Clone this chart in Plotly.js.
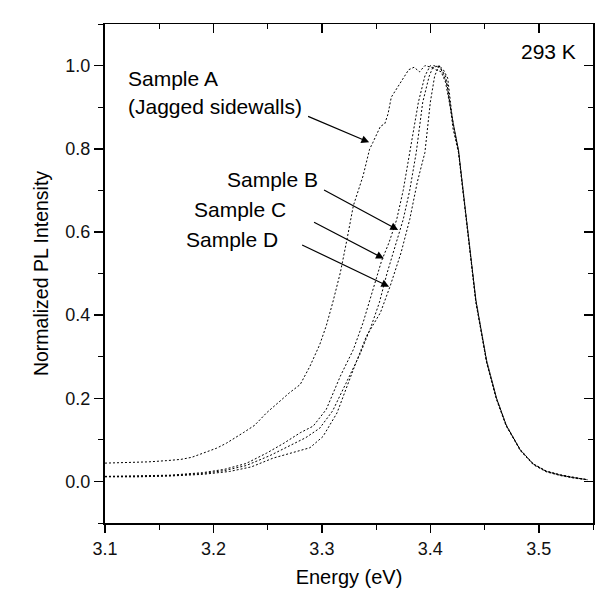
<!DOCTYPE html>
<html>
<head>
<meta charset="utf-8">
<script src="https://cdn.plot.ly/plotly-3.0.1.min.js"></script>
<style>
  html, body { margin: 0; padding: 0; background: #fff; }
  #chart { width: 616px; height: 616px; }
</style>
</head>
<body>
<div id="chart"></div>
<script>
// ---- Data ----
const energyA = [3.100, 3.120, 3.140, 3.157, 3.170, 3.180, 3.188, 3.195, 3.203, 3.212, 3.220, 3.228, 3.238, 3.249, 3.260, 3.270, 3.280, 3.289, 3.298, 3.304, 3.310, 3.317, 3.323, 3.329, 3.338, 3.344, 3.347, 3.354, 3.358, 3.361, 3.364, 3.372, 3.380, 3.385, 3.390, 3.395, 3.402, 3.408, 3.412, 3.416, 3.421, 3.426, 3.430, 3.436, 3.442, 3.448, 3.452, 3.461, 3.470, 3.483, 3.495, 3.507, 3.520, 3.532, 3.545];
const intensityA = [0.044, 0.045, 0.047, 0.050, 0.053, 0.058, 0.066, 0.072, 0.080, 0.092, 0.104, 0.118, 0.135, 0.165, 0.190, 0.213, 0.233, 0.277, 0.329, 0.374, 0.430, 0.502, 0.580, 0.663, 0.735, 0.799, 0.815, 0.854, 0.860, 0.884, 0.924, 0.958, 0.990, 0.996, 0.985, 1.000, 0.995, 1.000, 0.980, 0.950, 0.847, 0.791, 0.695, 0.566, 0.430, 0.340, 0.285, 0.197, 0.133, 0.076, 0.042, 0.025, 0.016, 0.010, 0.004];

const energyB = [3.100, 3.130, 3.160, 3.190, 3.210, 3.230, 3.249, 3.265, 3.280, 3.292, 3.304, 3.317, 3.329, 3.338, 3.347, 3.355, 3.362, 3.369, 3.375, 3.381, 3.389, 3.395, 3.400, 3.405, 3.410, 3.414, 3.421, 3.426, 3.430, 3.436, 3.442, 3.452, 3.461, 3.470, 3.483, 3.495, 3.507, 3.520, 3.532, 3.545];
const intensityB = [0.012, 0.013, 0.015, 0.021, 0.029, 0.043, 0.068, 0.092, 0.117, 0.133, 0.173, 0.253, 0.317, 0.382, 0.462, 0.530, 0.575, 0.630, 0.700, 0.791, 0.912, 0.975, 1.000, 0.990, 0.985, 0.960, 0.860, 0.795, 0.700, 0.570, 0.435, 0.288, 0.200, 0.135, 0.075, 0.041, 0.024, 0.015, 0.009, 0.004];

const energyC = [3.100, 3.130, 3.160, 3.190, 3.210, 3.230, 3.252, 3.270, 3.285, 3.298, 3.310, 3.322, 3.335, 3.345, 3.353, 3.360, 3.366, 3.375, 3.381, 3.387, 3.393, 3.399, 3.403, 3.409, 3.414, 3.421, 3.426, 3.430, 3.436, 3.442, 3.452, 3.461, 3.470, 3.483, 3.495, 3.507, 3.520, 3.532, 3.545];
const intensityC = [0.012, 0.012, 0.014, 0.019, 0.026, 0.038, 0.062, 0.085, 0.105, 0.128, 0.170, 0.235, 0.305, 0.370, 0.430, 0.500, 0.550, 0.630, 0.700, 0.791, 0.912, 0.975, 1.000, 0.995, 0.975, 0.862, 0.797, 0.702, 0.572, 0.437, 0.290, 0.201, 0.136, 0.076, 0.042, 0.024, 0.015, 0.009, 0.004];

const energyD = [3.100, 3.130, 3.160, 3.190, 3.215, 3.235, 3.255, 3.275, 3.289, 3.301, 3.314, 3.329, 3.341, 3.354, 3.363, 3.373, 3.381, 3.388, 3.395, 3.400, 3.404, 3.408, 3.412, 3.416, 3.421, 3.426, 3.430, 3.436, 3.442, 3.452, 3.461, 3.470, 3.483, 3.495, 3.507, 3.520, 3.532, 3.545];
const intensityD = [0.011, 0.011, 0.013, 0.017, 0.024, 0.035, 0.056, 0.070, 0.081, 0.108, 0.165, 0.269, 0.349, 0.406, 0.470, 0.550, 0.630, 0.720, 0.791, 0.912, 0.975, 1.000, 0.990, 0.970, 0.858, 0.793, 0.698, 0.568, 0.433, 0.286, 0.199, 0.134, 0.074, 0.040, 0.023, 0.014, 0.008, 0.004];

const sampleNames = ["Sample A", "Sample B", "Sample C", "Sample D"];
const xTickVals = [3.1, 3.2, 3.3, 3.4, 3.5];
const xTickText = ["3.1", "3.2", "3.3", "3.4", "3.5"];
const yTickVals = [0.0, 0.2, 0.4, 0.6, 0.8, 1.0];
const yTickText = ["0.0", "0.2", "0.4", "0.6", "0.8", "1.0"];

// ---- Traces ----
const lineStyle = { color: "#000", width: 1, dash: "2px,2px" };
const series = [[energyA, intensityA], [energyB, intensityB], [energyC, intensityC], [energyD, intensityD]];
const traces = series.map((s, i) => ({
  x: s[0], y: s[1], name: sampleNames[i], type: "scatter", mode: "lines",
  line: lineStyle, hoverinfo: "skip", showlegend: false
}));
traces.push({ x: [3.1], y: [-1], xaxis: "x2", yaxis: "y2", mode: "markers", marker: { opacity: 0 }, showlegend: false, hoverinfo: "skip" });

const FONT = "Liberation Sans, Arial, sans-serif";
const xr = [3.1, 3.55], yr = [-0.1, 1.1];

const annotations = [
  { text: "Sample A", x: 3.1194, y: 0.968, xanchor: "left" },
  { text: "(Jagged sidewalls)", x: 3.1194, y: 0.9005, xanchor: "left" },
  { text: "Sample B", x: 3.2982, y: 0.727, xanchor: "right" },
  { text: "Sample C", x: 3.2687, y: 0.655, xanchor: "right" },
  { text: "Sample D", x: 3.2613, y: 0.582, xanchor: "right" },
  { text: "293 K", x: 3.536, y: 1.033, xanchor: "right" }
].map(a => Object.assign({ xref: "x", yref: "y", yanchor: "middle", showarrow: false, font: { family: FONT, size: 21, color: "#000" } }, a));

const arrows = [
  [3.2859, 0.8795, 3.3436, 0.8154],
  [3.3006, 0.7029, 3.3703, 0.6048],
  [3.2914, 0.6251, 3.3571, 0.5359],
  [3.2804, 0.5704, 3.3620, 0.4684]
];
arrows.forEach(a => annotations.push({
  xref: "x", yref: "y", axref: "x", ayref: "y",
  ax: a[0], ay: a[1], x: a[2], y: a[3], text: "",
  showarrow: true, arrowhead: 2, arrowsize: 1.3, arrowwidth: 1.2, arrowcolor: "#000", standoff: 0
}));

const layout = {
  width: 616, height: 616,
  margin: { l: 105, r: 23, t: 24, b: 93 },
  paper_bgcolor: "#fff", plot_bgcolor: "#fff",
  font: { family: FONT, color: "#000" },
  showlegend: false,
  xaxis: {
    range: xr, showgrid: false, zeroline: false,
    showline: true, linecolor: "#000", linewidth: 2,
    ticks: "outside", ticklen: 8, tickwidth: 1.5, tickcolor: "#000",
    tickvals: xTickVals, ticktext: xTickText,
    minor: { dtick: 0.05, tick0: 3.1, ticks: "outside", ticklen: 5, tickwidth: 1, tickcolor: "#000" },
    tickfont: { family: FONT, size: 18, color: "#111" },
    title: { text: "Energy (eV)", font: { family: FONT, size: 20, color: "#000" }, standoff: 12 }
  },
  yaxis: {
    range: yr, showgrid: false, zeroline: false,
    showline: true, linecolor: "#000", linewidth: 2,
    ticks: "outside", ticklen: 9, tickwidth: 1.5, tickcolor: "#000",
    tickvals: yTickVals, ticktext: yTickText,
    minor: { dtick: 0.1, tick0: 0, ticks: "outside", ticklen: 5, tickwidth: 1, tickcolor: "#000" },
    tickfont: { family: FONT, size: 18, color: "#111" },
    title: { text: "Normalized PL Intensity", font: { family: FONT, size: 19.5, color: "#000" }, standoff: 12 }
  },
  xaxis2: {
    overlaying: "x", side: "top", range: xr, showgrid: false, zeroline: false,
    showline: true, linecolor: "#000", linewidth: 1.5,
    ticks: "inside", ticklen: 9, tickwidth: 1.5, tickcolor: "#000",
    tickvals: xTickVals, showticklabels: false,
    minor: { dtick: 0.05, tick0: 3.1, ticks: "inside", ticklen: 5, tickwidth: 1, tickcolor: "#000" }
  },
  yaxis2: {
    overlaying: "y", side: "right", range: yr, showgrid: false, zeroline: false,
    showline: true, linecolor: "#000", linewidth: 2,
    ticks: "inside", ticklen: 9, tickwidth: 1.5, tickcolor: "#000",
    tickvals: yTickVals, showticklabels: false,
    minor: { dtick: 0.1, tick0: 0, ticks: "inside", ticklen: 5, tickwidth: 1, tickcolor: "#000" }
  },
  annotations: annotations
};

Plotly.newPlot("chart", traces, layout, { staticPlot: true, displayModeBar: false });
</script>
</body>
</html>
